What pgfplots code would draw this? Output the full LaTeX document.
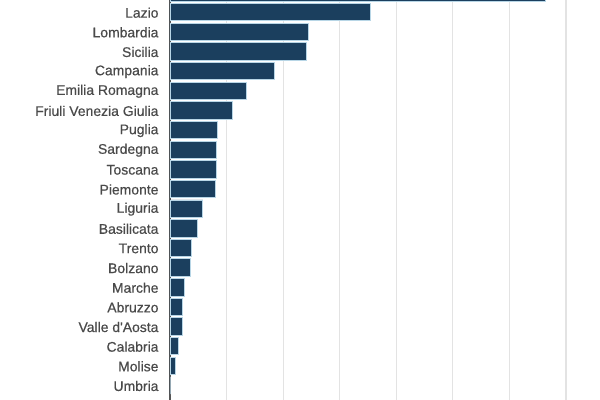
\documentclass[border=0pt]{standalone}
\usepackage{fontspec}
\setmainfont{Liberation Sans}
\newfontfamily\labelfont[FakeBold=0.5]{Liberation Sans}
\usepackage{pgfplots}
\pgfplotsset{compat=1.18}

\definecolor{barblue}{HTML}{1B3F5E}
\definecolor{baredge}{HTML}{B8D6E6}
\definecolor{labelgray}{HTML}{4A4A4A}
\definecolor{gridgray}{HTML}{E3E3E3}
\definecolor{axisgray}{HTML}{555555}

\begin{document}
\begin{tikzpicture}
\begin{axis}[
  at={(0bp,0bp)}, anchor=south west,
  scale only axis, width=430bp, height=400bp,
  xbar, bar width=17.4bp, bar shift=0pt,
  xmin=0, xmax=76, ymin=-0.74, ymax=19.62,
  xtick distance=10, xticklabels={},
  xmajorgrids, major grid style={gridgray, line width=1.2bp},
  ytick={0,...,20},
  yticklabels={Umbria,Molise,Calabria,Valle d'Aosta,Abruzzo,Marche,Bolzano,Trento,
    Basilicata,Liguria,Piemonte,Toscana,Sardegna,Puglia,Friuli Venezia Giulia,
    Emilia Romagna,Campania,Sicilia,Lombardia,Lazio,Veneto},
  yticklabel style={font=\labelfont\fontsize{14}{15}\selectfont, text=labelgray,
    xshift=-8bp, yshift=-0.5bp},
  major tick length=0pt,
  axis lines*=left,
  x axis line style={draw=none},
  y axis line style={axisgray, line width=2bp, -},
]
\addplot[fill=barblue, draw=baredge, line width=0.8bp] coordinates {
  (0.0,0) (1.0,1) (1.4,2) (2.2,3) (2.2,4) (2.6,5) (3.6,6) (3.8,7)
  (4.8,8) (5.8,9) (8.0,10) (8.2,11) (8.2,12) (8.3,13) (11.0,14)
  (13.5,15) (18.5,16) (24.1,17) (24.5,18) (35.4,19) (66.4,20)
};
\end{axis}
\pgfresetboundingbox
\path[use as bounding box] (-170bp,0bp) rectangle (430bp,400bp);
\end{tikzpicture}
\end{document}
